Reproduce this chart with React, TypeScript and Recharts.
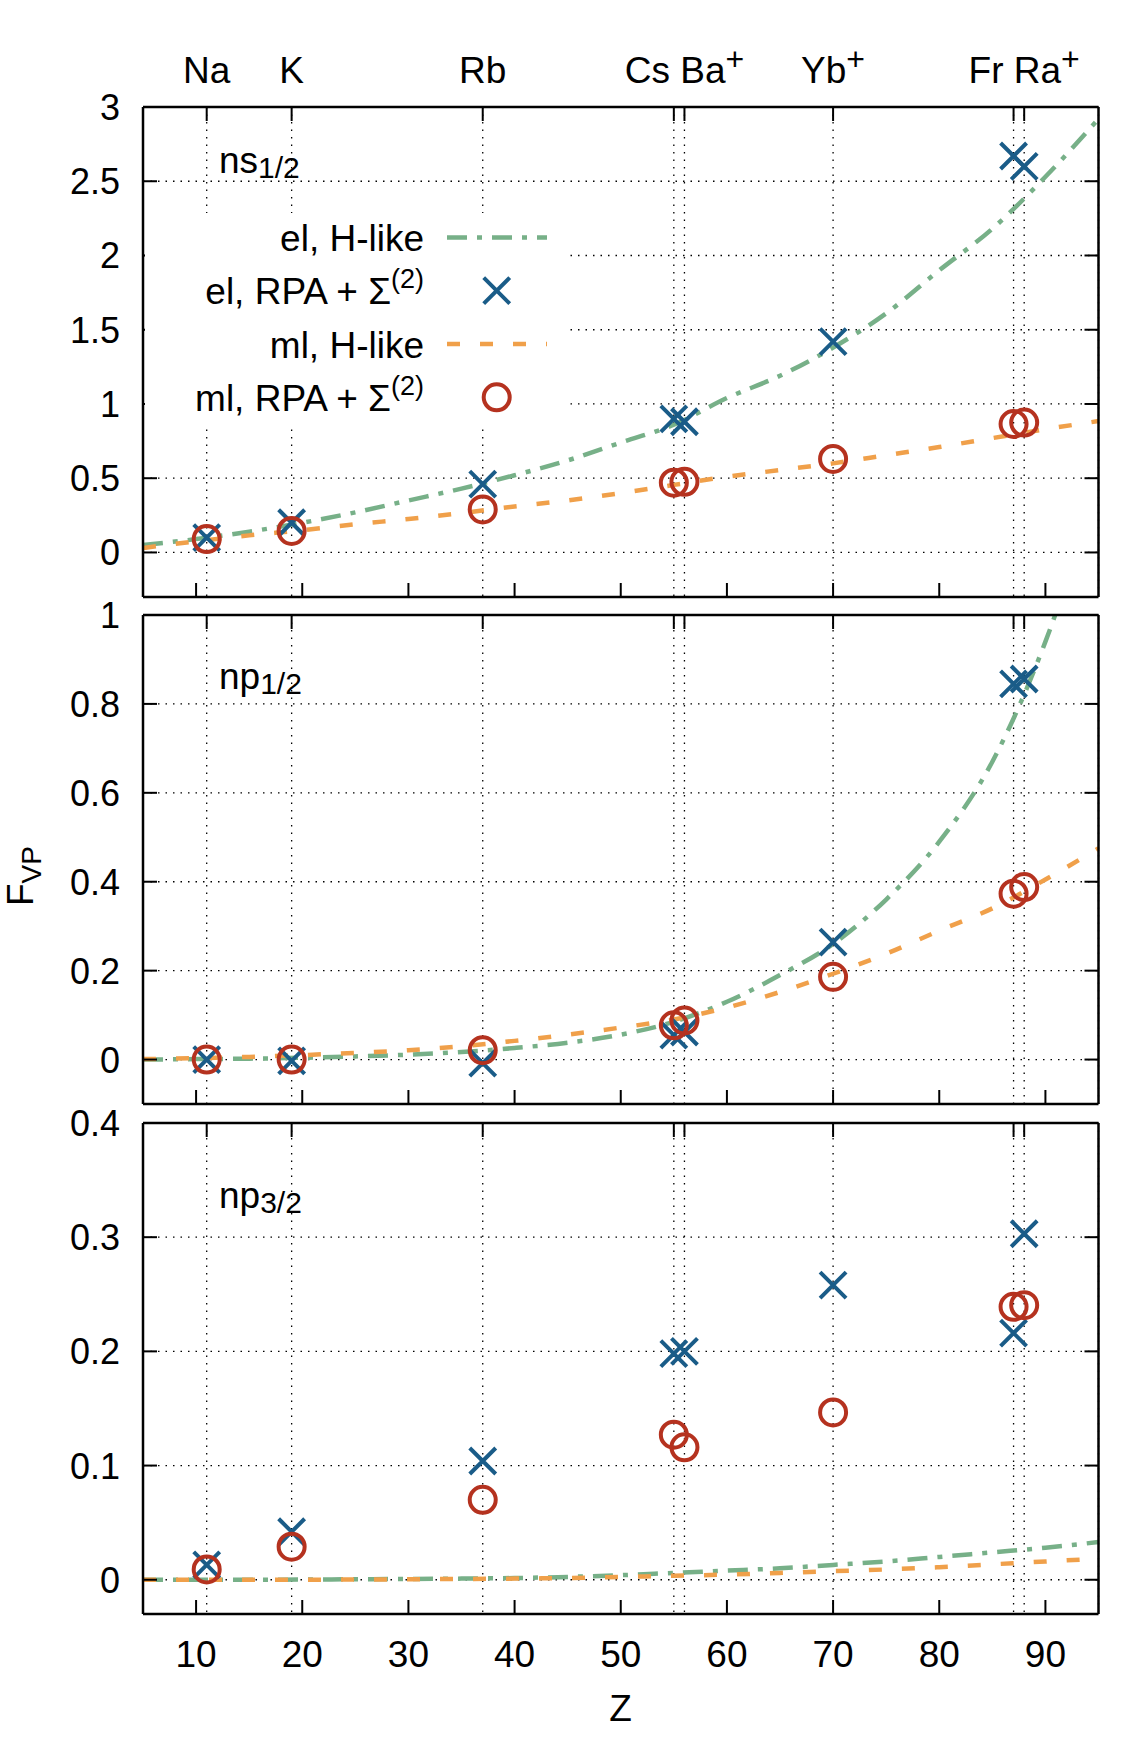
import React from 'react';
import { ComposedChart, Line, Scatter, XAxis, YAxis, CartesianGrid } from 'recharts';

const FONT = '"Liberation Sans", Arial, Helvetica, sans-serif';

const GREEN = '#77b088';
const BLUE = '#1a5c88';
const ORANGE = '#f0a04a';
const RED = '#b5321f';

// atoms along the top axis (Z)
const atomZ = [11, 19, 37, 55, 56, 70, 87, 88];
const atomLabels: Record<number, [string, string]> = {
  11: ['Na', ''],
  19: ['K', ''],
  37: ['Rb', ''],
  56: ['Cs Ba', '+'],
  70: ['Yb', '+'],
  88: ['Fr Ra', '+'],
};
const zTicks = [10, 20, 30, 40, 50, 60, 70, 80, 90];
const curveZ = [5, 10, 15, 20, 25, 30, 35, 40, 45, 50, 55, 60, 65, 70, 75, 80, 85, 90, 95];

// ns1/2
const nsTicks = [0, 0.5, 1, 1.5, 2, 2.5, 3];
const nsElHLike = [0.05, 0.09, 0.14, 0.2, 0.27, 0.35, 0.43, 0.52, 0.62, 0.74, 0.86, 1.04, 1.19, 1.38, 1.61, 1.9, 2.18, 2.53, 2.92];
const nsMlHLike = [0.03, 0.075, 0.115, 0.15, 0.19, 0.225, 0.265, 0.31, 0.35, 0.4, 0.455, 0.51, 0.555, 0.6, 0.655, 0.71, 0.77, 0.83, 0.885];
const nsElRpa = [0.1, 0.2, 0.46, 0.9, 0.88, 1.42, 2.67, 2.6];
const nsMlRpa = [0.09, 0.145, 0.29, 0.47, 0.476, 0.63, 0.865, 0.875];

// np1/2
const np12Ticks = [0, 0.2, 0.4, 0.6, 0.8, 1];
const np12ElHLike = [0, 0.001, 0.002, 0.004, 0.007, 0.011, 0.017, 0.026, 0.038, 0.056, 0.085, 0.13, 0.19, 0.26, 0.36, 0.49, 0.67, 0.94, 1.3];
const np12MlHLike = [0.001, 0.003, 0.006, 0.01, 0.015, 0.021, 0.03, 0.042, 0.056, 0.072, 0.09, 0.117, 0.152, 0.193, 0.238, 0.29, 0.34, 0.405, 0.475];
const np12ElRpa = [0, -0.003, -0.008, 0.055, 0.062, 0.264, 0.845, 0.856];
const np12MlRpa = [0, 0, 0.021, 0.077, 0.088, 0.186, 0.373, 0.388];

// np3/2
const np32Ticks = [0, 0.1, 0.2, 0.3, 0.4];
const np32ElHLike = [0, 0, 0, 0.0002, 0.0004, 0.0007, 0.001, 0.0015, 0.0025, 0.004, 0.006, 0.008, 0.01, 0.013, 0.016, 0.02, 0.024, 0.028, 0.033];
const np32MlHLike = [0, 0, 0, 0, 0.0002, 0.0004, 0.0007, 0.001, 0.0015, 0.0025, 0.0035, 0.0045, 0.006, 0.0075, 0.009, 0.011, 0.0135, 0.016, 0.0185];
const np32ElRpa = [0.013, 0.042, 0.104, 0.198, 0.2, 0.258, 0.216, 0.303];
const np32MlRpa = [0.009, 0.029, 0.07, 0.127, 0.116, 0.1465, 0.239, 0.2405];

const legendItems = [
  { text: 'el, H-like', sup: '', kind: 'elLine' },
  { text: 'el, RPA + Σ', sup: '(2)', kind: 'elMark' },
  { text: 'ml, H-like', sup: '', kind: 'mlLine' },
  { text: 'ml, RPA + Σ', sup: '(2)', kind: 'mlMark' },
];

const EL_DASH = '20 10 5 10';
const ML_DASH = '13 20';

const Cross = (props: any) => {
  const { cx, cy } = props;
  if (cx == null || cy == null) return <g />;
  const r = 13;
  return (
    <path
      d={`M${cx - r},${cy - r}L${cx + r},${cy + r}M${cx - r},${cy + r}L${cx + r},${cy - r}`}
      stroke={BLUE}
      strokeWidth={4}
      fill="none"
    />
  );
};

const Ring = (props: any) => {
  const { cx, cy } = props;
  if (cx == null || cy == null) return <g />;
  return <circle cx={cx} cy={cy} r={13} stroke={RED} strokeWidth={4} fill="none" />;
};

const EmptyTick = () => <g />;

const TopTick = (props: any) => {
  const { x, y, payload } = props;
  const lab = atomLabels[payload.value];
  if (!lab) return <g />;
  return (
    <text x={x} y={y} textAnchor="middle" fontSize={37} fontFamily={FONT} fill="#000">
      {lab[0]}
      {lab[1] && (
        <tspan dy={-13} fontSize={32}>
          {lab[1]}
        </tspan>
      )}
    </text>
  );
};

const BottomTick = (props: any) => {
  const { x, y, payload } = props;
  return (
    <text x={x} y={y} textAnchor="middle" fontSize={37} fontFamily={FONT} fill="#000">
      {payload.value}
    </text>
  );
};

const LeftTick = (props: any) => {
  const { x, y, payload } = props;
  return (
    <text x={x} y={y} dy={13} textAnchor="end" fontSize={36} fontFamily={FONT} fill="#000">
      {payload.value}
    </text>
  );
};

const frame = { stroke: '#000', strokeWidth: 2.5 };
const tickStyle = { stroke: '#000', strokeWidth: 2 };

interface PanelProps {
  top: number;
  height: number;
  topH: number;
  bottomH: number;
  domain: [number, number];
  ticks: number[];
  elH: number[];
  mlH: number[];
  elRpa: number[];
  mlRpa: number[];
  topLabels?: boolean;
  bottomLabels?: boolean;
}

function Panel({ top, height, topH, bottomH, domain, ticks, elH, mlH, elRpa, mlRpa, topLabels, bottomLabels }: PanelProps) {
  const elHData = curveZ.map((z, i) => ({ z, v: elH[i] }));
  const mlHData = curveZ.map((z, i) => ({ z, v: mlH[i] }));
  const elRpaData = atomZ.map((z, i) => ({ z, v: elRpa[i] }));
  const mlRpaData = atomZ.map((z, i) => ({ z, v: mlRpa[i] }));

  return (
    <div style={{ position: 'absolute', left: 0, top, width: 1136, height }}>
      <ComposedChart width={1136} height={height} margin={{ top: 0, right: 0, bottom: 0, left: 0 }}>
        <CartesianGrid xAxisId="t" yAxisId="l" stroke="#000" strokeDasharray="1.5 6" strokeWidth={1.3} />
        <XAxis
          xAxisId="b"
          type="number"
          dataKey="z"
          domain={[5, 95]}
          ticks={zTicks}
          interval={0}
          orientation="bottom"
          height={bottomH}
          tickSize={-14}
          tickMargin={67}
          tickLine={tickStyle}
          axisLine={frame}
          tick={bottomLabels ? BottomTick : EmptyTick}
        />
        <XAxis
          xAxisId="t"
          type="number"
          dataKey="z"
          domain={[5, 95]}
          ticks={atomZ}
          interval={0}
          orientation="top"
          height={topH}
          tickSize={-14}
          tickMargin={38}
          tickLine={tickStyle}
          axisLine={frame}
          tick={topLabels ? TopTick : EmptyTick}
        />
        <YAxis
          yAxisId="l"
          type="number"
          dataKey="v"
          domain={domain}
          ticks={ticks}
          interval={0}
          allowDataOverflow
          width={143}
          tickSize={-14}
          tickMargin={37}
          tickLine={tickStyle}
          axisLine={frame}
          tick={LeftTick}
        />
        <YAxis
          yAxisId="r"
          orientation="right"
          type="number"
          dataKey="v"
          domain={domain}
          ticks={ticks}
          interval={0}
          allowDataOverflow
          width={37.5}
          tickSize={-14}
          tickLine={tickStyle}
          axisLine={frame}
          tick={EmptyTick}
        />
        <Line
          xAxisId="b"
          yAxisId="l"
          data={elHData}
          dataKey="v"
          type="monotone"
          stroke={GREEN}
          strokeWidth={4.5}
          strokeDasharray={EL_DASH}
          dot={false}
          isAnimationActive={false}
        />
        <Scatter xAxisId="t" yAxisId="l" data={elRpaData} shape={Cross} isAnimationActive={false} />
        <Line
          xAxisId="b"
          yAxisId="r"
          data={mlHData}
          dataKey="v"
          type="monotone"
          stroke={ORANGE}
          strokeWidth={4.5}
          strokeDasharray={ML_DASH}
          dot={false}
          isAnimationActive={false}
        />
        <Scatter xAxisId="t" yAxisId="r" data={mlRpaData} shape={Ring} isAnimationActive={false} />
      </ComposedChart>
    </div>
  );
}

function PanelLabel({ x, y, main, sub }: { x: number; y: number; main: string; sub: string }) {
  return (
    <text x={x} y={y} fontSize={37} fontFamily={FONT} fill="#000">
      {main}
      <tspan dy={5} fontSize={30}>
        {sub}
      </tspan>
    </text>
  );
}

function Overlay() {
  const rowY = [237.5, 290.7, 344, 397.3];
  return (
    <svg width={1136} height={1756} style={{ position: 'absolute', left: 0, top: 0, pointerEvents: 'none' }}>
      <PanelLabel x={219} y={173} main="ns" sub="1/2" />
      <PanelLabel x={219} y={689} main="np" sub="1/2" />
      <PanelLabel x={219} y={1208} main="np" sub="3/2" />

      {/* key box */}
      <rect x={145} y={213} width={421} height={212} fill="#fff" />
      {legendItems.map((it, i) => (
        <g key={it.kind}>
          <text x={424} y={rowY[i] + 13.5} textAnchor="end" fontSize={37} fontFamily={FONT} fill="#000">
            {it.text}
            {it.sup && (
              <tspan dy={-16} fontSize={27}>
                {it.sup}
              </tspan>
            )}
          </text>
          {it.kind === 'elLine' && (
            <line x1={447} x2={547} y1={rowY[i]} y2={rowY[i]} stroke={GREEN} strokeWidth={4.5} strokeDasharray={EL_DASH} />
          )}
          {it.kind === 'mlLine' && (
            <line x1={447} x2={547} y1={rowY[i]} y2={rowY[i]} stroke={ORANGE} strokeWidth={4.5} strokeDasharray={ML_DASH} />
          )}
          {it.kind === 'elMark' && <Cross cx={496.7} cy={rowY[i]} />}
          {it.kind === 'mlMark' && <Ring cx={496.7} cy={rowY[i]} />}
        </g>
      ))}

      <text transform="translate(33,876) rotate(-90)" textAnchor="middle" fontSize={37} fontFamily={FONT} fill="#000">
        F
        <tspan dy={8} fontSize={28}>
          VP
        </tspan>
      </text>
      <text x={620.6} y={1721} textAnchor="middle" fontSize={37} fontFamily={FONT} fill="#000">
        Z
      </text>
    </svg>
  );
}

export default function App() {
  return (
    <div style={{ position: 'absolute', left: 0, top: 0, width: 1136, height: 1756, background: '#fff' }}>
      <Panel
        top={0}
        height={620}
        topH={107}
        bottomH={23}
        domain={[-0.3, 3]}
        ticks={nsTicks}
        elH={nsElHLike}
        mlH={nsMlHLike}
        elRpa={nsElRpa}
        mlRpa={nsMlRpa}
        topLabels
      />
      <Panel
        top={585}
        height={535}
        topH={30}
        bottomH={16}
        domain={[-0.1, 1]}
        ticks={np12Ticks}
        elH={np12ElHLike}
        mlH={np12MlHLike}
        elRpa={np12ElRpa}
        mlRpa={np12MlRpa}
      />
      <Panel
        top={1093}
        height={663}
        topH={30}
        bottomH={142}
        domain={[-0.03, 0.4]}
        ticks={np32Ticks}
        elH={np32ElHLike}
        mlH={np32MlHLike}
        elRpa={np32ElRpa}
        mlRpa={np32MlRpa}
        bottomLabels
      />
      <Overlay />
    </div>
  );
}
